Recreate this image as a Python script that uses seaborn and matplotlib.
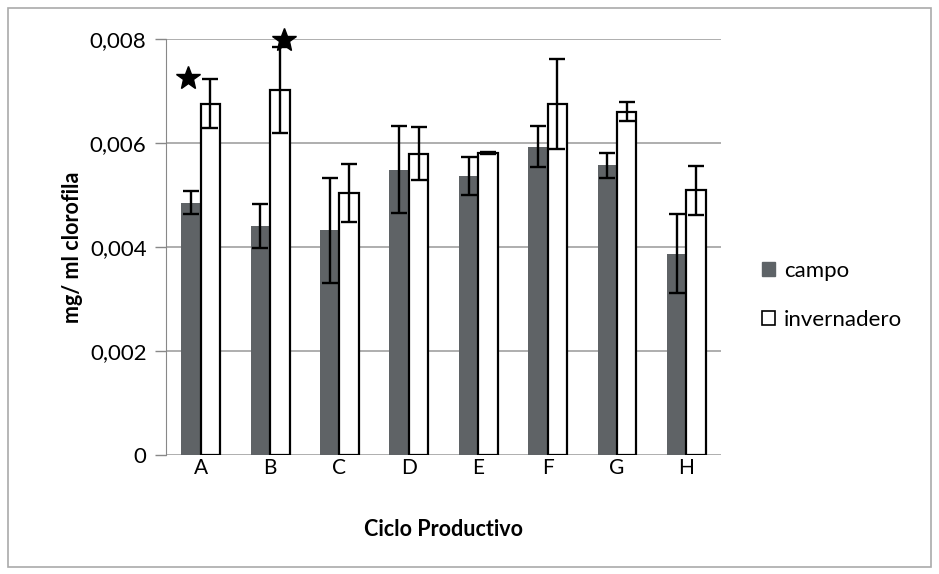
import numpy as np
import pandas as pd
import matplotlib
matplotlib.use("Agg")
import matplotlib.pyplot as plt
from matplotlib.patches import Patch, Rectangle
import seaborn as sns

# ======================= DATA ======================
ciclos = ["A", "B", "C", "D", "E", "F", "G", "H"]
campo = [0.00485, 0.00441, 0.00432, 0.00549, 0.00537, 0.00593, 0.00557, 0.00387]
campo_err = [0.00022, 0.00042, 0.00101, 0.00084, 0.00036, 0.00040, 0.00024, 0.00076]
invernadero = [0.00676, 0.00702, 0.00504, 0.00579, 0.00580, 0.00675, 0.00660, 0.00509]
invernadero_err = [0.00047, 0.00082, 0.00056, 0.00051, 0.00002, 0.00087, 0.00018, 0.00047]
# significance stars (category index offset, height)
star_x = [-0.18, 0.20]
star_y = [0.00726, 0.00799]

df = pd.DataFrame({
    "ciclo": ciclos * 2,
    "valor": campo + invernadero,
    "tipo": ["campo"] * len(ciclos) + ["invernadero"] * len(ciclos),
})

sns.set_style("white")
plt.rcParams["font.family"] = ["Lato", "DejaVu Sans"]
plt.rcParams["text.color"] = "black"
plt.rcParams["axes.labelcolor"] = "black"
plt.rcParams["xtick.color"] = "black"
plt.rcParams["ytick.color"] = "black"

fig = plt.figure(figsize=(9.39, 5.74), dpi=100)
ax = fig.add_axes([0.1768, 0.2073, 0.768 - 0.1768, 0.932 - 0.2073])

gris = "#5e6367"
sns.barplot(data=df, x="ciclo", y="valor", hue="tipo",
            palette={"campo": gris, "invernadero": "white"},
            width=0.56, gap=0, legend=False, ax=ax, zorder=2)

# edges + error bars
errs = [campo_err, invernadero_err]
bar_groups = list(ax.containers[:2])
for i, cont in enumerate(bar_groups):
    xs = []
    for bar in cont:
        if i == 0:
            bar.set_edgecolor(gris)
            bar.set_linewidth(0)
        else:
            bar.set_edgecolor("black")
            bar.set_linewidth(1.6)
        xs.append(bar.get_x() + bar.get_width() / 2)
    vals = [b.get_height() for b in cont]
    ax.errorbar(xs, vals, yerr=errs[i], fmt="none", ecolor="black",
                elinewidth=1.7, capsize=5.5, capthick=1.7, zorder=3)

# stars
ax.plot(np.arange(2) + np.array(star_x), star_y, marker="*", ls="none",
        color="black", markersize=18, clip_on=False, zorder=4)

ax.set_ylim(0, 0.008)
ax.set_xlim(-0.5, 7.5)
ax.set_yticks([0, 0.002, 0.004, 0.006, 0.008])
ax.set_yticklabels(["0", "0,002", "0,004", "0,006", "0,008"], fontsize=16)
ax.tick_params(axis="x", labelsize=15, length=0, pad=2)
ax.tick_params(axis="y", length=8, width=1, color="#888888", direction="out",
               left=True, pad=6)
ax.yaxis.grid(True, color="#999999", lw=1.1, zorder=0)
ax.set_axisbelow(True)
for s in ["top", "right"]:
    ax.spines[s].set_visible(False)
ax.spines["left"].set_color("#888888")
ax.spines["bottom"].set_visible(False)

ax.set_xlabel("Ciclo Productivo", fontsize=15.5, fontweight="bold", labelpad=30)
ax.set_ylabel("mg/ ml clorofila", fontsize=15.5, fontweight="bold", labelpad=5)

handles = [Patch(facecolor=gris, edgecolor=gris, label="campo"),
           Patch(facecolor="white", edgecolor="black", lw=1.2, label="invernadero")]
fig.legend(handles=handles, loc="center left", bbox_to_anchor=(0.79, 0.485),
           frameon=False, fontsize=16, handlelength=0.6, handleheight=0.6,
           handletextpad=0.4, labelspacing=1.3)

# outer frame
fig.patches.append(Rectangle((0.008, 0.012), 0.984, 0.974, transform=fig.transFigure,
                             fill=False, edgecolor="#aaaaaa", lw=1.2))

fig.savefig("out.png", dpi=100)
